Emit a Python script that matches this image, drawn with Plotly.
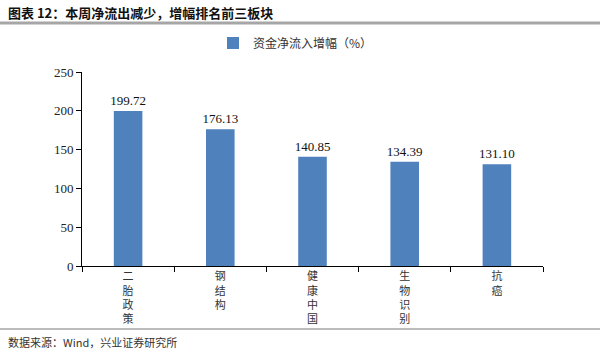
import plotly.graph_objects as go

categories = ["二<br>胎<br>政<br>策", "钢<br>结<br>构", "健<br>康<br>中<br>国", "生<br>物<br>识<br>别", "抗<br>癌"]
values = [199.72, 176.13, 140.85, 134.39, 131.10]
series_name = "资金净流入增幅（%）"
title_text = "图表 12：本周净流出减少，增幅排名前三板块"
source_text = "数据来源：Wind，兴业证券研究所"

W, H = 600, 354
L, R, T, B = 82, 57, 72, 88
pw, ph = W - L - R, H - T - B

def px_x(x):
    return (x - L) / pw

def px_y(y):
    return (H - B - y) / ph

serif = "Liberation Serif, Noto Sans CJK SC, serif"
cjk = "Noto Sans CJK SC, sans-serif"

fig = go.Figure()
fig.add_trace(go.Bar(
    x=categories, y=values, name=series_name,
    marker=dict(color="#4F81BD", line=dict(width=0)),
    width=0.31,
    text=[f"{v:.2f}" for v in values],
    textposition="outside",
    constraintext="none",
    textfont=dict(family=serif, size=13, color="#111"),
    cliponaxis=False,
))

fig.update_layout(
    width=W, height=H,
    margin=dict(l=L, r=R, t=T, b=B),
    paper_bgcolor="white", plot_bgcolor="white",
    showlegend=True,
    legend=dict(orientation="h", x=px_x(213), xanchor="left", y=px_y(43), yanchor="middle",
                font=dict(family=cjk, size=12, color="#333"), bgcolor="rgba(0,0,0,0)"),
    xaxis=dict(showline=True, linecolor="black", linewidth=1, ticks="outside", ticklen=5,
               tickcolor="black", tickson="boundaries", showgrid=False,
               tickfont=dict(family=cjk, size=11, color="#333"), fixedrange=True),
    yaxis=dict(range=[0, 250], dtick=50, showline=True, linecolor="black", linewidth=1,
               ticks="outside", ticklen=5, tickcolor="black", showgrid=False, zeroline=False,
               tickfont=dict(family=serif, size=13, color="#222")),
    shapes=[
        dict(type="line", xref="paper", yref="paper", x0=px_x(0), x1=px_x(W), y0=px_y(23), y1=px_y(23),
             line=dict(color="#A6A6A6", width=3)),
        dict(type="line", xref="paper", yref="paper", x0=px_x(0), x1=px_x(W), y0=px_y(329), y1=px_y(329),
             line=dict(color="#A6A6A6", width=1.5)),
    ],
    annotations=[
        dict(text="<b>" + title_text + "</b>", xref="paper", yref="paper", x=px_x(6), y=px_y(12),
             xanchor="left", yanchor="middle", showarrow=False,
             font=dict(family=cjk, size=13, color="#111")),
        dict(text=source_text, xref="paper", yref="paper", x=px_x(6), y=px_y(342),
             xanchor="left", yanchor="middle", showarrow=False,
             font=dict(family=cjk, size=11, color="#333")),
    ],
)

fig.write_html("out.html")
